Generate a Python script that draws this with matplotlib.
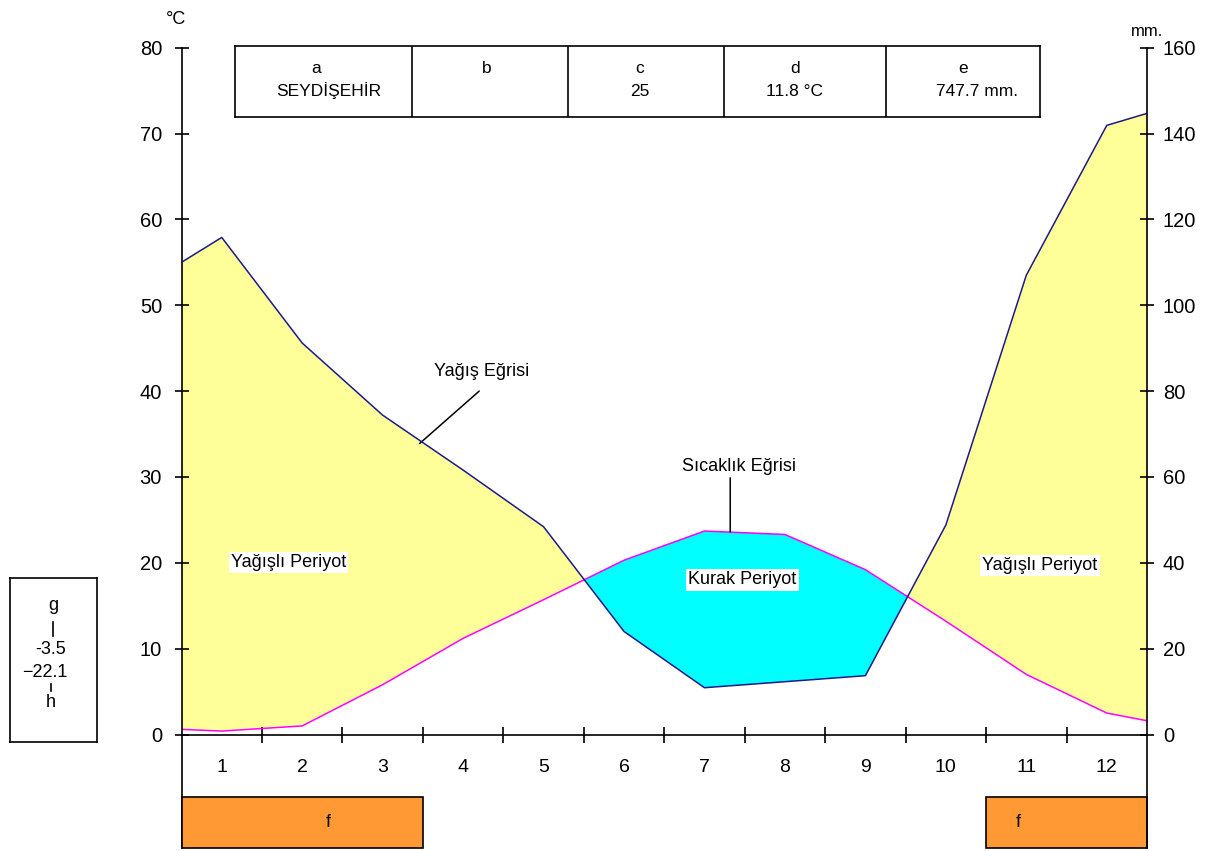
import numpy as np
import matplotlib.pyplot as plt
from matplotlib.patches import Rectangle

plt.rcParams['font.family'] = ['Liberation Sans', 'DejaVu Sans']

# --- data ---
months = list(range(1, 13))
edge_x = [0.5] + months + [12.5]
temp = [0.6, 0.4, 1.0, 5.8, 11.2, 15.7, 20.3, 23.7, 23.3, 19.2, 13.2, 7.0, 2.5, 1.6]          # °C
prec = [110.0, 115.8, 91.2, 74.4, 61.6, 48.4, 24.0, 10.9, 12.3, 13.7, 48.8, 107.0, 141.9, 144.7]  # mm

head_keys = ['a', 'b', 'c', 'd', 'e']
head_vals = ['SEYDİŞEHİR', '', '25', '11.8 °C', '747.7 mm.']
frost_spans = [(1, 3), (11, 12)]
extremes = ['-3.5', '−22.1']

W, H = 1214, 851


def fx(px):
    return px / W


def fy(py):
    return 1 - py / H


# pixel geometry of the main frame
y80_px, y0_px, ybot_px = 47.7, 734.5, 848
unit = (y0_px - y80_px) / 80
ybot = -(ybot_px - y0_px) / unit

fig = plt.figure(figsize=(W / 100, H / 100), dpi=100)
ax = fig.add_axes([fx(181.5), fy(ybot_px), fx(1147) - fx(181.5), (ybot_px - y80_px) / H])
ax.set_xlim(0.5, 12.5)
ax.set_ylim(ybot, 80)
ax2 = ax.twinx()
ax2.set_ylim(2 * ybot, 160)

t = np.array(temp)
p2 = np.array(prec) / 2  # 20 mm = 10 °C
ax.fill_between(edge_x, t, p2, where=p2 >= t, interpolate=True, facecolor='#FFFF99', linewidth=0)
ax.fill_between(edge_x, t, p2, where=p2 < t, interpolate=True, facecolor='#00FFFF', linewidth=0)
ax.plot(edge_x, temp, color='#FF00FF', lw=1.1)
ax2.plot(edge_x, prec, color='#1A1A8C', lw=1.1)

# spines / ticks
for s in ['top', 'right']:
    ax.spines[s].set_visible(False)
for s in ['top', 'bottom', 'left']:
    ax2.spines[s].set_visible(False)
ax.spines['bottom'].set_position(('data', 0))
for sp in [ax.spines['left'], ax.spines['bottom'], ax2.spines['right']]:
    sp.set_linewidth(1.2)

ax.set_yticks(range(0, 81, 10))
ax.tick_params(axis='y', direction='inout', length=10, width=1.2, labelsize=14.5, pad=9)
ax2.set_yticks(range(0, 161, 20))
ax2.tick_params(axis='y', direction='inout', length=10, width=1.2, labelsize=14.5, pad=6.5)
ax.set_xticks(months)
ax.set_xticks(np.arange(1.5, 12, 1), minor=True)
ax.tick_params(axis='x', which='major', length=0, pad=18, labelsize=14)
ax.tick_params(axis='x', which='minor', direction='inout', length=11, width=1.2)

# frost band
box_top = -(797 - y0_px) / unit
f_offsets = [0.32, -0.6]
for (a, b), off in zip(frost_spans, f_offsets):
    ax.add_patch(Rectangle((a - 0.5, ybot), b - a + 1, box_top - ybot, facecolor='#FF9933',
                           edgecolor='black', lw=1.2, clip_on=False, zorder=3))
    ax.text((a + b) / 2 + off, (box_top + ybot) / 2, 'f', ha='center', va='center', fontsize=13, zorder=4)

# labels
lbl = dict(facecolor='white', edgecolor='none', pad=1.5)
ax.text(1.83, 20.0, 'Yağışlı Periyot', ha='center', va='center', fontsize=13, bbox=lbl)
ax.text(11.17, 19.7, 'Yağışlı Periyot', ha='center', va='center', fontsize=13, bbox=lbl)
ax.text(7.47, 18.0, 'Kurak Periyot', ha='center', va='center', fontsize=13, bbox=lbl)

leader = dict(arrowstyle='-', color='black', lw=1.1, shrinkA=0, shrinkB=0)
ax.text(4.23, 42.3, 'Yağış Eğrisi', ha='center', va='center', fontsize=13)
ax.annotate('', xy=(3.46, 33.9), xytext=(4.2, 40.0), arrowprops=leader)
ax.text(7.43, 31.2, 'Sıcaklık Eğrisi', ha='center', va='center', fontsize=13)
ax.annotate('', xy=(7.32, 23.6), xytext=(7.32, 29.9), arrowprops=leader)

fig.text(fx(176), fy(20), '°C', ha='center', va='center', fontsize=13)
fig.text(fx(1147), fy(31), 'mm.', ha='center', va='center', fontsize=12)

# header table
tax = fig.add_axes([fx(235), fy(117.3), fx(1040) - fx(235), (117.3 - 46) / H])
tax.set_xlim(235, 1040)
tax.set_ylim(117.3, 46)
tax.set_xticks([])
tax.set_yticks([])
for sp in tax.spines.values():
    sp.set_linewidth(1.2)
tax.vlines([412, 568, 724, 886], 46, 117.3, color='black', lw=1.2)
key_x = [316, 487, 640, 795, 963]
val_x = [329, 490, 640, 794, 977]
for k, v, kx, vx in zip(head_keys, head_vals, key_x, val_x):
    tax.text(kx, 73, k, ha='center', va='baseline', fontsize=12.5)
    tax.text(vx, 96, v, ha='center', va='baseline', fontsize=12.5)

# extremes box
bax = fig.add_axes([fx(9.5), fy(741.7), fx(97.3) - fx(9.5), (741.7 - 578) / H])
bax.set_xlim(9.5, 97.3)
bax.set_ylim(741.7, 578)
bax.set_xticks([])
bax.set_yticks([])
for sp in bax.spines.values():
    sp.set_linewidth(1.2)
bax.text(53, 610, 'g', ha='center', va='baseline', fontsize=13)
bax.plot([53, 53], [622, 636], color='black', lw=1.2)
bax.text(51, 654, extremes[0], ha='center', va='baseline', fontsize=13)
bax.text(45, 677, extremes[1], ha='center', va='baseline', fontsize=13)
bax.plot([51, 51], [684, 691], color='black', lw=1.2)
bax.text(51, 707, 'h', ha='center', va='baseline', fontsize=13)

fig.savefig('out.png', dpi=100)
